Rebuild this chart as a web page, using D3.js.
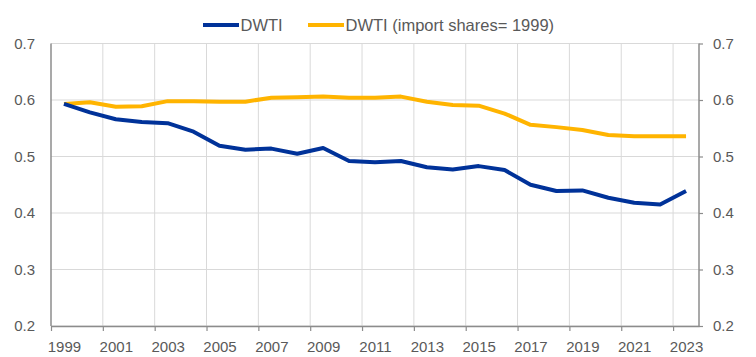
<!DOCTYPE html>
<html><head><meta charset="utf-8">
<script src="https://cdn.jsdelivr.net/npm/d3@7"></script>
<style>
body{margin:0;background:#fff;}
svg text{font-family:"Liberation Sans",Arial,sans-serif;fill:#595959;}
</style></head>
<body><svg id="c" width="756" height="357"></svg>
<script>
const years = [1999,2000,2001,2002,2003,2004,2005,2006,2007,2008,2009,2010,2011,2012,2013,2014,2015,2016,2017,2018,2019,2020,2021,2022,2023];
const dwti = [0.593,0.578,0.566,0.561,0.559,0.544,0.519,0.512,0.514,0.505,0.515,0.492,0.490,0.492,0.481,0.477,0.483,0.476,0.450,0.439,0.440,0.427,0.418,0.415,0.439];
const dwti1999 = [0.593,0.596,0.588,0.589,0.598,0.598,0.597,0.597,0.604,0.605,0.606,0.604,0.604,0.606,0.597,0.591,0.590,0.576,0.556,0.552,0.547,0.538,0.536,0.536,0.536];
const yTicks = [0.2,0.3,0.4,0.5,0.6,0.7];
const xTicks = [1999,2001,2003,2005,2007,2009,2011,2013,2015,2017,2019,2021,2023];
const seriesNames = ["DWTI","DWTI (import shares= 1999)"];
const colors = ["#003299","#FFB400"];

const svg = d3.select("#c");
const L=51, R=699, T=43.5, B=326;
const x = d3.scaleLinear().domain([1999,2024]).range([L,R]);
const y = d3.scaleLinear().domain([0.2,0.7]).range([B,T]);

// grid
const g = svg.append("g");
g.selectAll("line.h").data(yTicks).join("line")
  .attr("x1",L).attr("x2",R).attr("y1",d=>y(d)).attr("y2",d=>y(d))
  .attr("stroke","#d9d9d9").attr("stroke-width",1);
g.selectAll("line.v").data(xTicks.slice(1)).join("line")
  .attr("x1",d=>x(d)).attr("x2",d=>x(d)).attr("y1",T).attr("y2",B)
  .attr("stroke","#d9d9d9").attr("stroke-width",1);

// axes
const fmt = d3.format(".1f");
const ax = svg.append("g").attr("transform",`translate(0,${B})`)
  .call(d3.axisBottom(x).tickValues(xTicks).tickFormat(d3.format("d")).tickSize(5).tickSizeOuter(0));
const ayl = svg.append("g").attr("transform",`translate(${L},0)`)
  .call(d3.axisLeft(y).tickValues(yTicks).tickFormat(fmt).tickSize(0).tickPadding(16).tickSizeOuter(0));
const ayr = svg.append("g").attr("transform",`translate(${R},0)`)
  .call(d3.axisRight(y).tickValues(yTicks).tickFormat(fmt).tickSize(4).tickPadding(10).tickSizeOuter(0));
[ax,ayl,ayr].forEach(a=>{
  a.select(".domain").attr("stroke","#8c8c8c").attr("stroke-width",1.5);
  a.selectAll(".tick line").attr("stroke","#8c8c8c").attr("stroke-width",1.2);
  a.selectAll("text").attr("font-size","15px").attr("fill","#595959");
});
// year labels centred in the middle of each year
const halfYear = x(2000.5)-x(2000);
ax.selectAll(".tick text").attr("dy","0.71em").attr("y",15).attr("x",halfYear);
ayl.select(".domain").attr("d",`M0,${T}V${B}`);
ayr.select(".domain").attr("d",`M0,${T}V${B}`);

// lines
const line = d3.line().x((d,i)=>x(years[i]+0.5)).y(d=>y(d));
[dwti1999,dwti].forEach((s,k)=>{
  svg.append("path").datum(s).attr("d",line)
    .attr("fill","none").attr("stroke",k===0?colors[1]:colors[0])
    .attr("stroke-width",4).attr("stroke-linejoin","round").attr("stroke-linecap","butt");
});

// legend
const leg = svg.append("g");
const legX=[203,308];
seriesNames.forEach((n,i)=>{
  leg.append("line").attr("x1",legX[i]).attr("x2",legX[i]+36).attr("y1",25).attr("y2",25)
    .attr("stroke",colors[i]).attr("stroke-width",4);
  leg.append("text").attr("x",legX[i]+37.5).attr("y",31).attr("font-size","16.5px").text(n);
});
</script></body></html>
